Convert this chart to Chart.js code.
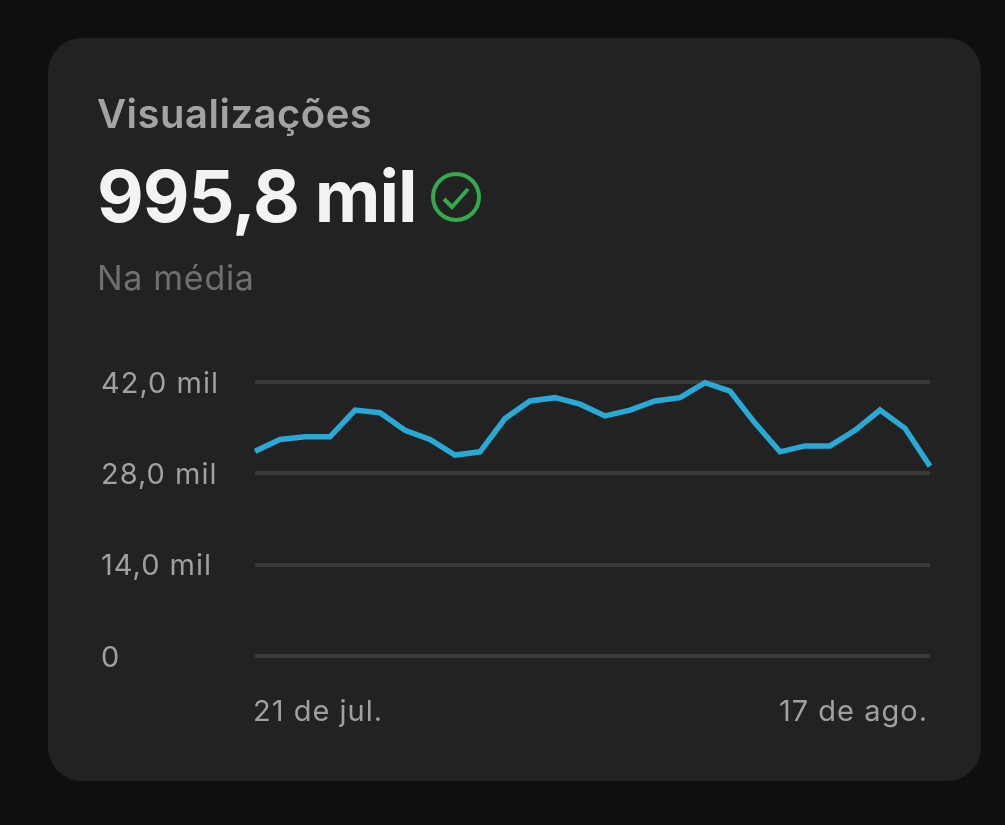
<!DOCTYPE html>
<html lang="pt-BR">
<head>
<meta charset="utf-8">
<title>Visualizações</title>
<script src="https://cdn.jsdelivr.net/npm/chart.js@4/dist/chart.umd.min.js"></script>
<style>
  html, body { margin: 0; padding: 0; width: 1005px; height: 825px; overflow: hidden; background: #0f0f0f; font-family: Inter, sans-serif; }
  #card { position: absolute; left: 48px; top: 38px; width: 933px; height: 743px; background: #222222; border-radius: 34px; }
  #chart { position: absolute; left: 0; top: 0; }
  .txt { position: absolute; white-space: nowrap; line-height: 1; }
  #title { left: 97px; top: 94px; font-size: 40px; font-weight: 600; color: #a3a3a3; letter-spacing: 0.5px; }
  #total { left: 97px; top: 160px; font-size: 72px; font-weight: 700; color: #f3f3f3; letter-spacing: -1px; }
  #sub { left: 97px; top: 261px; font-size: 34px; color: #6f6f6f; letter-spacing: 0.7px; }
  #check { position: absolute; left: 430px; top: 171px; }
</style>
</head>
<body>
<div id="card"></div>
<canvas id="chart" width="1005" height="825"></canvas>
<div class="txt" id="title">Visualizações</div>
<div class="txt" id="total">995,8 mil</div>
<svg id="check" width="52" height="52" viewBox="0 0 52 52" fill="none">
  <circle cx="26" cy="26" r="23" stroke="#34a94d" stroke-width="4"/>
  <path d="M14 28 L22 36 L38 18" stroke="#34a94d" stroke-width="4"/>
</svg>
<div class="txt" id="sub">Na média</div>
<script>
const days = [
  '21 de jul.', '22 de jul.', '23 de jul.', '24 de jul.', '25 de jul.', '26 de jul.', '27 de jul.',
  '28 de jul.', '29 de jul.', '30 de jul.', '31 de jul.', '1 de ago.', '2 de ago.', '3 de ago.',
  '4 de ago.', '5 de ago.', '6 de ago.', '7 de ago.', '8 de ago.', '9 de ago.', '10 de ago.',
  '11 de ago.', '12 de ago.', '13 de ago.', '14 de ago.', '15 de ago.', '16 de ago.', '17 de ago.'
];
// thousands of views per day
const views = [
  31.4, 33.2, 33.6, 33.6, 37.7, 37.3, 34.6,
  33.2, 30.8, 31.3, 36.4, 39.1, 39.6, 38.6,
  36.8, 37.7, 39.1, 39.6, 41.9, 40.6, 35.7,
  31.3, 32.2, 32.2, 34.6, 37.7, 34.9, 29.1
];
const yTicks = [0, 14, 28, 42];
const yTickLabels = ['0', '14,0 mil', '28,0 mil', '42,0 mil'];

// canvas text has no css letter-spacing, so set it on the context before drawing
const labelSpacing = {
  id: 'labelSpacing',
  beforeDraw(chart) { chart.ctx.letterSpacing = '1px'; }
};

const ctx = document.getElementById('chart').getContext('2d');
new Chart(ctx, {
  type: 'line',
  plugins: [labelSpacing],
  data: {
    labels: days,
    datasets: [{
      data: views,
      borderColor: '#29a9d6',
      borderWidth: 5.5,
      tension: 0,
      pointRadius: 0,
      clip: false
    }]
  },
  options: {
    responsive: false,
    animation: false,
    layout: { padding: { left: 101, right: 75, top: 382, bottom: 89 } },
    plugins: { legend: { display: false }, tooltip: { enabled: false } },
    scales: {
      x: {
        grid: { display: false },
        border: { display: false },
        afterFit: scale => { scale.height = 80; },
        ticks: {
          autoSkip: false,
          maxRotation: 0,
          align: 'inner',
          padding: 31,
          labelOffset: -2,
          color: '#a0a0a0',
          font: { family: 'Inter', size: 29 },
          callback: (v, i) => (i === 0 || i === days.length - 1) ? days[i] : ''
        }
      },
      y: {
        min: 0,
        max: 42,
        afterBuildTicks: scale => { scale.ticks = yTicks.map(v => ({ value: v })); },
        afterFit: scale => { scale.width = 154; },
        grid: { color: '#3a3a3a', lineWidth: 4, drawTicks: false },
        border: { display: false },
        ticks: {
          crossAlign: 'far',
          labelOffset: 2,
          color: '#a0a0a0',
          font: { family: 'Inter', size: 29 },
          callback: v => yTickLabels[yTicks.indexOf(v)]
        }
      }
    }
  }
});
</script>
</body>
</html>
